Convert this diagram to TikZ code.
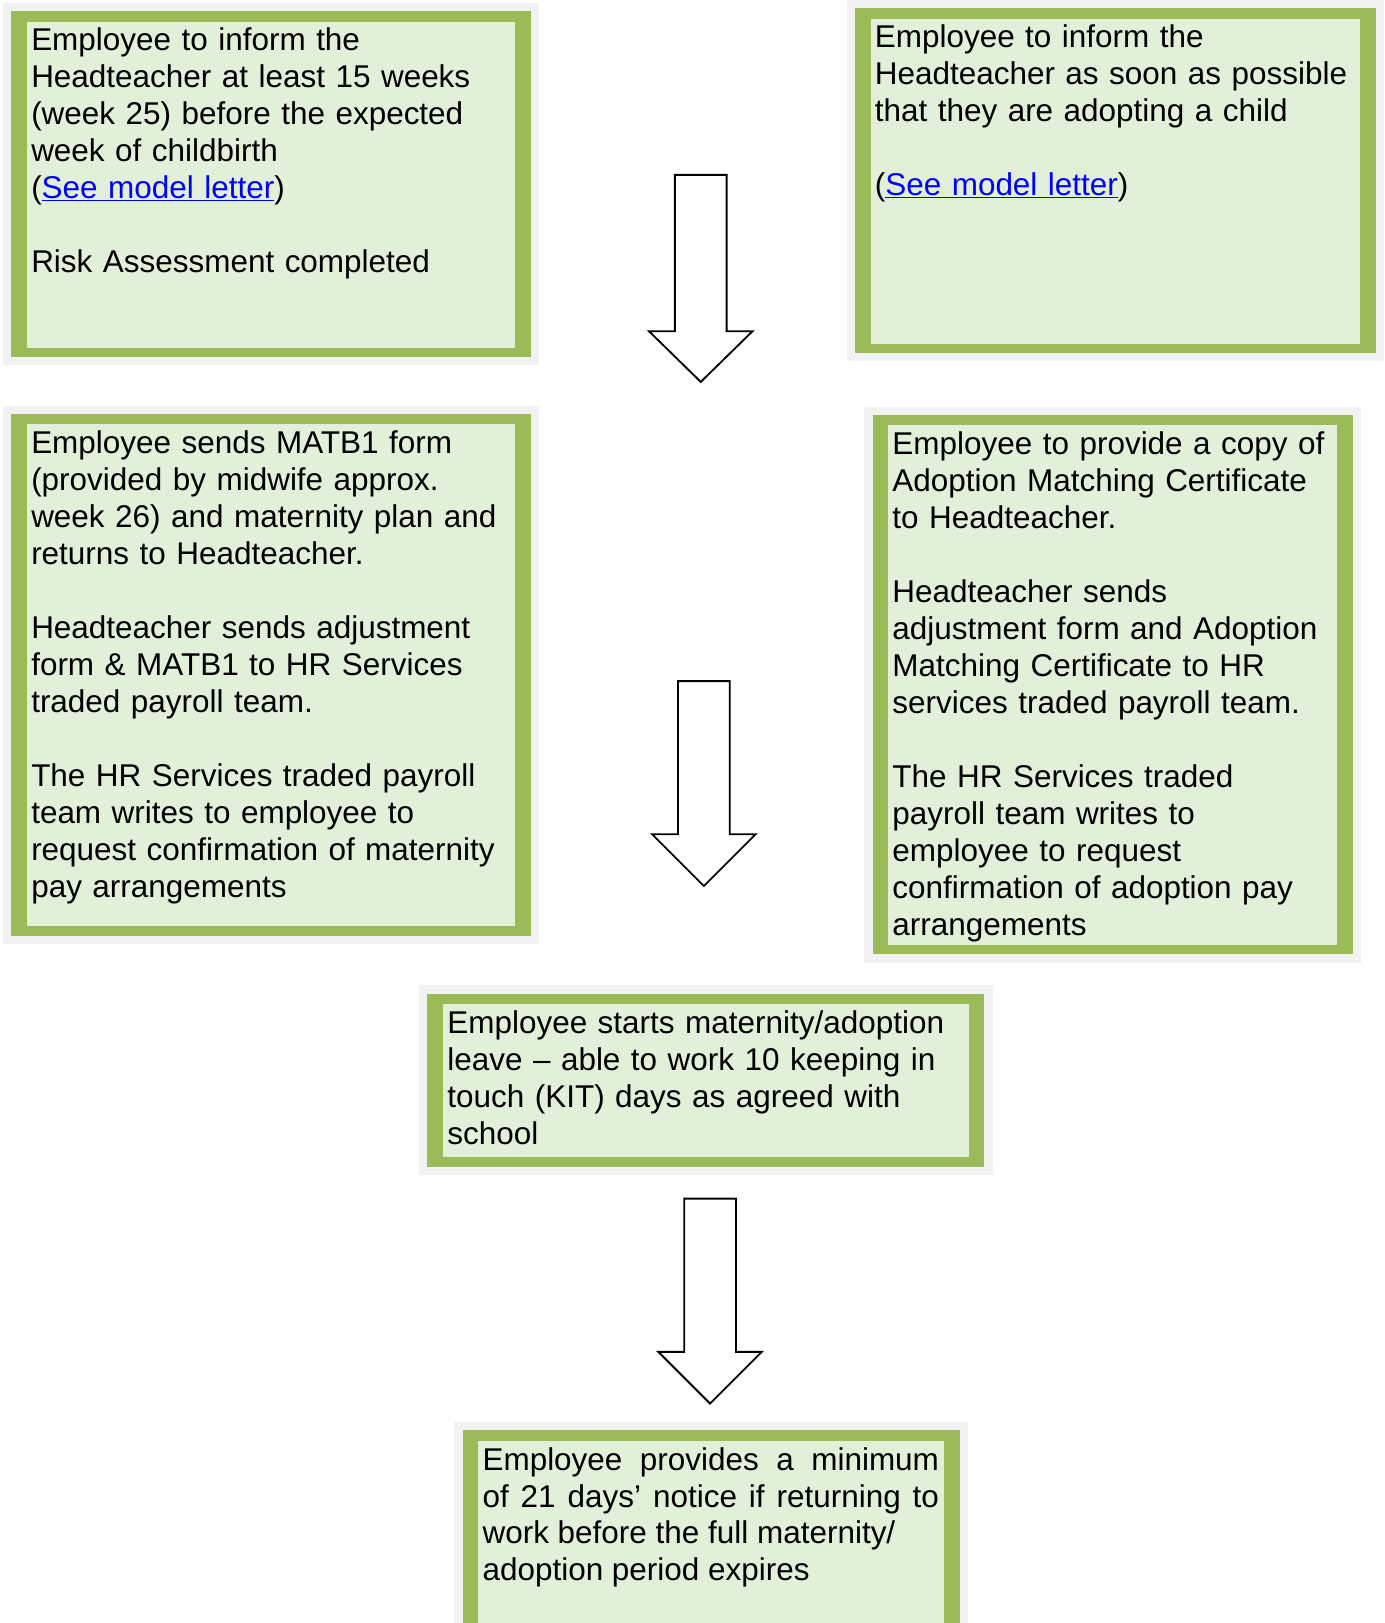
\documentclass[tikz,border=0pt]{standalone}
\usepackage{fontspec}
\setmainfont{Liberation Sans}
\definecolor{framegreen}{HTML}{9BBB59}
\definecolor{panelgreen}{HTML}{E2EFD9}
\definecolor{backdropgray}{HTML}{F2F2F2}
\definecolor{linkblue}{HTML}{0000FF}
% green panel with its pale backdrop: #1,#2 top left, #3,#4 bottom right
\newcommand{\greenpanel}[4]{%
  \fill[backdropgray] (#1-8,#2-8) rectangle (#3+8,#4+8);
  \fill[framegreen] (#1,#2) rectangle (#3,#4);
  \fill[panelgreen] (#1+15,#2+10) rectangle (#3-15,#4-9);
}
\newcommand{\modellink}{(\textcolor{linkblue}{\underline{See model letter}})}
\begin{document}
\begin{tikzpicture}[x=1pt,y=-1pt,
    boxtext/.style={anchor=north west,inner sep=0pt,align=left,font=\fontsize{30.4}{35.7}\selectfont},
    blockarrow/.style={draw,line width=1.8pt,fill=white,line join=miter}]
  \clip (0,0) rectangle (1338,1568);
  \fill[white] (0,0) rectangle (1338,1568);

  % maternity side
  \greenpanel{11}{11}{513}{345}
  \node[boxtext,text width=466pt](informhead) at (30,27) {Employee to inform the\\Headteacher at least 15 weeks\\(week 25) before the expected\\week of childbirth\\\modellink\\[35.7pt]Risk Assessment completed};
  \greenpanel{11}{400}{513}{904}
  \node[boxtext,text width=466pt](matbform) at (30,416) {Employee sends MATB1 form\\(provided by midwife approx.\\week 26) and maternity plan and\\returns to Headteacher.\\[35.7pt]Headteacher sends adjustment\\form \& MATB1 to HR Services\\traded payroll team.\\[35.7pt]The HR Services traded payroll\\team writes to employee to\\request confirmation of maternity\\pay arrangements};

  % adoption side
  \greenpanel{826}{8}{1329}{341}
  \node[boxtext,text width=467pt](informadopt) at (845,24) {Employee to inform the\\Headteacher as soon as possible\\that they are adopting a child\\[35.7pt]\modellink};
  \greenpanel{843}{401}{1307}{922}
  \node[boxtext,text width=428pt](matchcert) at (862,417) {Employee to provide a copy of\\Adoption Matching Certificate\\to Headteacher.\\[35.7pt]Headteacher sends\\adjustment form and Adoption\\Matching Certificate to HR\\services traded payroll team.\\[35.7pt]The HR Services traded\\payroll team writes to\\employee to request\\confirmation of adoption pay\\arrangements};

  % leave and return
  \greenpanel{413}{960}{951}{1127}
  \node[boxtext,text width=503pt](startleave) at (432,976) {Employee starts maternity/adoption\\leave – able to work 10 keeping in\\touch (KIT) days as agreed with\\school};
  \greenpanel{447}{1382}{927}{1590}
  \node[boxtext,align=justify,text width=441pt](returnwork) at (466,1398) {Employee provides a minimum\linebreak of 21 days’ notice if returning to\linebreak work before the full maternity/\newline adoption period expires};

  % block arrows
  \draw[blockarrow] (652,169) -- ++(0,151) -- ++(-25,0) -- ++(50,49) -- ++(50,-49) -- ++(-25,0) -- ++(0,-151) -- cycle;
  \draw[blockarrow] (655,658) -- ++(0,148) -- ++(-25,0) -- ++(50,50) -- ++(50,-50) -- ++(-25,0) -- ++(0,-148) -- cycle;
  \draw[blockarrow] (661,1158) -- ++(0,148) -- ++(-25,0) -- ++(50,50) -- ++(50,-50) -- ++(-25,0) -- ++(0,-148) -- cycle;
\end{tikzpicture}
\end{document}
